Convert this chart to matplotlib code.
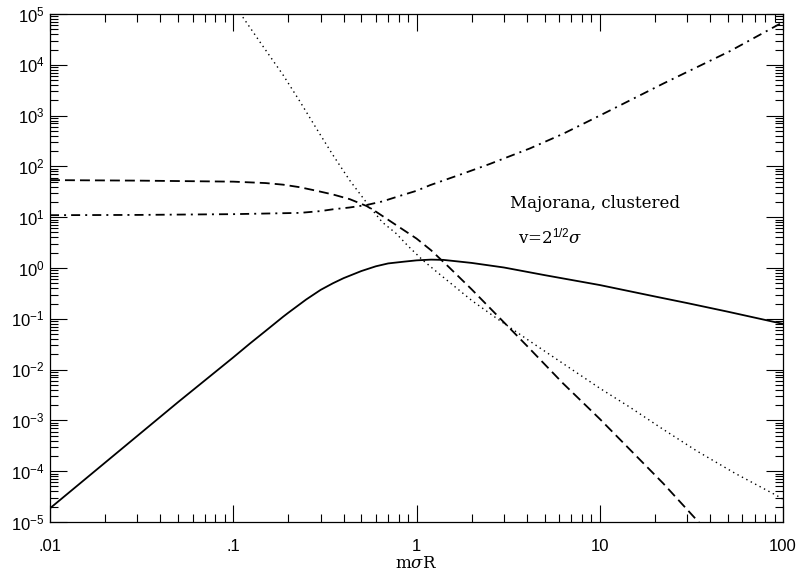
import numpy as np
import matplotlib
matplotlib.use('Agg')
import matplotlib.pyplot as plt
from matplotlib.ticker import LogLocator, NullFormatter

# curves (x = m sigma R)
solid_x = [0.01, 0.02, 0.05, 0.1, 0.123, 0.15, 0.187, 0.2, 0.25, 0.3, 0.35,
           0.4, 0.5, 0.6, 0.7, 0.85, 1.0, 1.2, 1.4, 2.0, 3.0, 5.0, 10, 20, 30,
           50, 100]
solid_y = [1.862e-5, 1.479e-4, 2.291e-3, 1.738e-2, 3.236e-2, 5.754e-2, 0.1096,
           0.132, 0.2399, 0.3715, 0.501, 0.631, 0.871, 1.08, 1.230, 1.33,
           1.413, 1.462, 1.445, 1.259, 1.023, 0.724, 0.462, 0.275, 0.204,
           0.138, 0.0794]

dashed_x = [0.01, 0.03, 0.1, 0.15, 0.187, 0.23, 0.285, 0.35, 0.433, 0.534, 0.6,
            0.7, 0.85, 1.0, 1.2, 1.5, 2.0, 2.74, 4.0, 6.3, 10, 22.2, 35]
dashed_y = [53.7, 52.5, 50.1, 47.0, 43.7, 39.0, 33.1, 28.0, 22.6, 16.6, 12.9,
            8.91, 5.6, 3.80, 2.24, 1.047, 0.380, 0.119, 0.0295, 5.37e-3,
            1.07e-3, 5.75e-5, 9.55e-6]

dotted_x = [0.105, 0.14, 0.187, 0.23, 0.285, 0.35, 0.433, 0.557, 0.65, 0.774,
            0.9, 1.08, 1.3, 1.585, 2.0, 2.74, 4.0, 6.3, 10, 14.6, 22, 33.8, 55,
            92.5, 100]
dotted_y = [1.259e5, 2.8e4, 6310, 1950, 549.5, 167, 52.5, 15.85, 8.0, 4.79,
            2.70, 1.436, 0.82, 0.457, 0.230, 0.102, 0.0398, 0.0132, 4.30e-3,
            1.82e-3, 6.8e-4, 2.51e-4, 9.0e-5, 3.31e-5, 2.82e-5]

dashdot_x = [0.01, 0.03, 0.1, 0.231, 0.3, 0.352, 0.43, 0.534, 0.65, 0.812,
             1.0, 1.186, 1.8, 2.5, 4.16, 6.3, 10, 22.2, 51.4, 100]
dashdot_y = [10.96, 11.09, 11.48, 12.16, 13.2, 14.35, 15.5, 17.38, 20.4, 26.3,
             33.1, 42.7, 72.4, 111, 226, 437, 1000, 4266, 18620, 69180]

xticks = [0.01, 0.1, 1, 10, 100]
xtick_labels = ['.01', '.1', '1', '10', '100']
yticks = [1e-5, 1e-4, 1e-3, 1e-2, 1e-1, 1e0, 1e1, 1e2, 1e3, 1e4, 1e5]
ytick_labels = [r'$10^{-5}$', r'$10^{-4}$', r'$10^{-3}$', r'$10^{-2}$',
                r'$10^{-1}$', r'$10^{0}$', r'$10^{1}$', r'$10^{2}$',
                r'$10^{3}$', r'$10^{4}$', r'$10^{5}$']

plt.rcParams['font.family'] = ['DejaVu Serif']
plt.rcParams['mathtext.fontset'] = 'custom'
plt.rcParams['mathtext.rm'] = 'Liberation Sans'
plt.rcParams['mathtext.it'] = 'DejaVu Serif:italic'

fig = plt.figure(figsize=(8.01, 5.71), dpi=100)
ax = fig.add_axes([50 / 801, 1 - 522 / 571, 733 / 801, 508 / 571])

ax.plot(solid_x, solid_y, color='black', lw=1.3, ls='-')
ax.plot(dashed_x, dashed_y, color='black', lw=1.3, ls=(0, (5.5, 2.8)))
ax.plot(dotted_x, dotted_y, color='black', lw=1.0, ls=(0, (1, 2.6)))
ax.plot(dashdot_x, dashdot_y, color='black', lw=1.3, ls=(0, (5, 2.8, 1.1, 2.8)))

ax.set_xscale('log')
ax.set_yscale('log')
ax.set_xlim(0.01, 100)
ax.set_ylim(1e-5, 1e5)

ax.set_xticks(xticks)
ax.set_xticklabels(xtick_labels, fontfamily='Liberation Sans', fontsize=12)
ax.set_yticks(yticks)
ax.set_yticklabels(ytick_labels, fontsize=12)
for a in (ax.xaxis, ax.yaxis):
    a.set_minor_locator(LogLocator(base=10, subs=np.arange(2, 10), numticks=100))
    a.set_minor_formatter(NullFormatter())

ax.tick_params(which='both', direction='in', top=True, right=True, width=0.8)
ax.tick_params(which='major', length=12)
ax.tick_params(which='minor', length=6)
ax.tick_params(axis='x', which='major', pad=12)
ax.tick_params(axis='y', which='major', pad=4)
for s in ax.spines.values():
    s.set_linewidth(0.9)

ax.set_xlabel(r'm$\sigma$R', fontsize=12)
ax.xaxis.set_label_coords(0.5, -0.064)

ax.text(0.6276, 0.618, 'Majorana, clustered', transform=ax.transAxes,
        fontsize=12, va='baseline', ha='left')
ax.text(0.638, 0.549, r'v=2$^{1/2}\sigma$', transform=ax.transAxes,
        fontsize=12, va='baseline', ha='left')

fig.savefig('out.png', dpi=100)
